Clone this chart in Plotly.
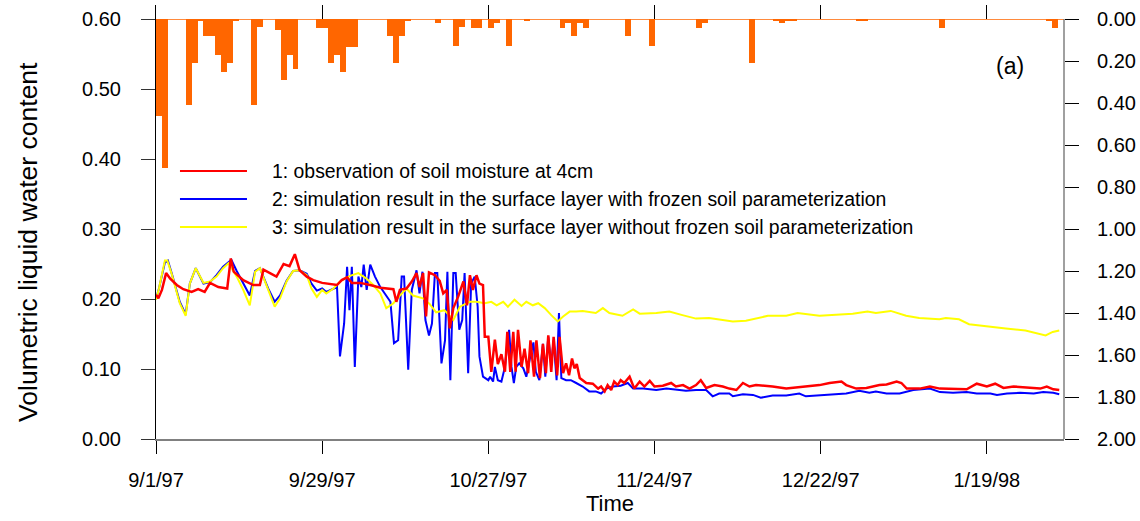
import pandas as pd
import plotly.graph_objects as go

# ---------------- data ----------------
start_date = "1997-09-01"
end_date = "1998-02-01"

tick_dates = ["1997-09-01", "1997-09-29", "1997-10-27", "1997-11-24", "1997-12-22", "1998-01-19"]
tick_labels = ["9/1/97", "9/29/97", "10/27/97", "11/24/97", "12/22/97", "1/19/98"]

# daily precipitation (right axis, inverted), one value per day from 9/1/97
precip = [0.46, 0.71, 0, 0, 0, 0.41, 0.21, 0.01, 0.08, 0.08,
          0.17, 0.25, 0.21, 0.01, 0, 0, 0.41, 0.04, 0, 0,
          0.05, 0.29, 0.17, 0.24, 0, 0, 0, 0.045, 0.045, 0.21,
          0.17, 0.25, 0.135, 0.135, 0, 0, 0, 0, 0, 0.08,
          0.21, 0.08, 0.01, 0, 0, 0, 0, 0.02, 0, 0,
          0.13, 0.04, 0, 0.045, 0.045, 0, 0.045, 0.02, 0, 0.13,
          0, 0, 0.01, 0, 0, 0, 0, 0, 0.045, 0.02,
          0.08, 0.02, 0.045, 0, 0, 0, 0, 0, 0, 0.08,
          0, 0, 0, 0.13, 0, 0, 0, 0, 0, 0,
          0, 0.045, 0.02, 0, 0, 0, 0, 0, 0, 0,
          0.21, 0, 0, 0, 0.01, 0.02, 0.01, 0.01, 0, 0,
          0, 0, 0, 0, 0, 0, 0, 0, 0.01, 0.01,
          0, 0, 0, 0, 0, 0, 0, 0, 0, 0,
          0, 0, 0.045, 0, 0, 0, 0, 0, 0, 0,
          0, 0, 0, 0, 0, 0, 0, 0, 0, 0,
          0.01, 0.045, 0]

# 1: observation (days since 9/1/97, value)
obs_day = [0, 0.4, 1.0, 1.7, 2.4, 3.5, 4.6, 6.0, 7.1, 8.2,
           9.1, 10.5, 12.0, 12.6, 13.1, 14.7, 16.4, 17.5, 18.1, 19.2,
           20.3, 21.5, 22.5, 23.4, 24.2, 25.4, 26.5, 28.0, 29.3, 30.5,
           31.3, 32.2, 33.0, 34.4, 36.1, 37.8, 40.0, 40.5, 41.1, 42.2,
           43.1, 43.9, 44.4, 45.0, 45.5, 46.0, 47.0, 47.8, 48.4, 49.0,
           49.5, 50.1, 50.9, 51.8, 52.4, 52.9, 53.4, 54.0, 54.5, 55.1,
           55.4, 56.0, 56.5, 57.1, 57.6, 58.2, 58.8, 59.2, 59.7, 60.2,
           60.6, 61.0, 61.6, 62.1, 62.7, 63.1, 63.7, 64.1, 64.7, 65.2,
           65.7, 66.1, 66.6, 67.0, 67.6, 68.0, 68.6, 69.1, 69.6, 70.1,
           70.5, 70.9, 71.4, 72.5, 73.6, 74.5, 75.0, 75.6, 76.1, 76.7,
           77.2, 77.8, 78.3, 78.9, 79.8, 80.6, 81.5, 82.3, 83.2, 84.0,
           85.4, 86.8, 87.6, 88.8, 89.9, 91.0, 91.8, 92.7, 94.1, 95.5,
           96.6, 97.8, 98.9, 100.0, 101.1, 103.9, 106.2, 109.0, 111.8, 113.5,
           115.5, 116.3, 118.0, 119.7, 121.9, 123.1, 124.8, 125.6, 126.5, 128.7,
           130.4, 132.1, 134.3, 136.6, 138.3, 140.0, 141.4, 142.8, 144.5, 146.7,
           149.0, 150.1, 151.2, 152.2]
obs_val = [0.206, 0.201, 0.213, 0.237, 0.229, 0.220, 0.214, 0.210, 0.214, 0.210,
           0.223, 0.217, 0.215, 0.258, 0.239, 0.227, 0.220, 0.220, 0.242, 0.237,
           0.232, 0.250, 0.247, 0.264, 0.241, 0.232, 0.227, 0.223, 0.221, 0.220,
           0.227, 0.231, 0.223, 0.223, 0.220, 0.216, 0.214, 0.196, 0.213, 0.215,
           0.225, 0.237, 0.217, 0.237, 0.175, 0.238, 0.234, 0.226, 0.208, 0.213,
           0.158, 0.187, 0.203, 0.225, 0.191, 0.234, 0.213, 0.234, 0.222, 0.220,
           0.146, 0.146, 0.096, 0.142, 0.107, 0.121, 0.096, 0.153, 0.096, 0.153,
           0.096, 0.156, 0.103, 0.129, 0.094, 0.141, 0.089, 0.141, 0.087, 0.136,
           0.094, 0.148, 0.096, 0.146, 0.091, 0.146, 0.094, 0.108, 0.091, 0.115,
           0.101, 0.107, 0.087, 0.080, 0.079, 0.072, 0.075, 0.068, 0.077, 0.070,
           0.082, 0.077, 0.084, 0.080, 0.089, 0.072, 0.082, 0.075, 0.083, 0.075,
           0.076, 0.080, 0.075, 0.077, 0.072, 0.077, 0.084, 0.073, 0.077, 0.075,
           0.072, 0.070, 0.080, 0.075, 0.077, 0.075, 0.072, 0.074, 0.077, 0.080,
           0.082, 0.077, 0.072, 0.073, 0.077, 0.078, 0.082, 0.080, 0.072, 0.072,
           0.075, 0.072, 0.072, 0.071, 0.079, 0.075, 0.079, 0.073, 0.075, 0.074,
           0.072, 0.075, 0.071, 0.070]

# 2: simulation with frozen soil parameterization
frz_day = [0, 0.5, 1.5, 2.0, 2.6, 4.0, 5.0, 5.7, 6.7, 8.0,
           9.1, 10.2, 11.3, 12.7, 13.6, 14.7, 15.8, 16.7, 17.5, 18.9,
           20.0, 20.9, 22.0, 23.1, 24.2, 25.4, 26.2, 27.1, 28.0, 28.7,
           29.9, 30.5, 31.0, 31.7, 32.2, 32.6, 33.0, 33.5, 34.1, 34.6,
           35.0, 35.5, 36.1, 36.9, 37.8, 38.8, 39.5, 40.1, 40.8, 41.4,
           41.8, 42.5, 43.1, 43.9, 44.4, 44.9, 45.4, 46.0, 46.5, 47.0,
           47.4, 48.1, 48.7, 49.1, 49.6, 50.1, 50.5, 51.1, 51.6, 52.0,
           52.6, 53.1, 53.7, 54.2, 54.5, 55.1, 56.0, 56.3, 56.8, 57.1,
           57.6, 58.2, 58.8, 59.2, 59.5, 59.9, 60.3, 60.7, 61.2, 61.9,
           62.4, 63.0, 63.6, 64.0, 64.6, 65.2, 65.6, 66.1, 66.6, 67.0,
           67.5, 67.9, 68.3, 69.1, 69.9, 70.8, 71.9, 73.0, 74.1, 75.0,
           75.9, 77.0, 78.3, 79.5, 80.4, 82.1, 84.3, 86.0, 87.6, 89.3,
           91.0, 92.7, 93.8, 94.9, 96.6, 97.2, 98.9, 100.6, 101.9, 103.9,
           106.2, 108.4, 109.5, 111.8, 114.1, 116.3, 118.5, 120.2, 121.3, 123.1,
           125.3, 127.6, 130.4, 132.1, 134.3, 136.6, 138.3, 140.6, 141.7, 143.4,
           145.6, 147.9, 149.5, 151.2, 152.2]
frz_val = [0.200, 0.215, 0.252, 0.255, 0.238, 0.196, 0.178, 0.222, 0.244, 0.222,
           0.224, 0.234, 0.246, 0.256, 0.240, 0.222, 0.205, 0.240, 0.244, 0.215,
           0.196, 0.205, 0.226, 0.240, 0.241, 0.236, 0.222, 0.212, 0.215, 0.210,
           0.215, 0.217, 0.118, 0.165, 0.246, 0.184, 0.246, 0.103, 0.232, 0.217,
           0.249, 0.213, 0.249, 0.232, 0.217, 0.205, 0.196, 0.137, 0.141, 0.232,
           0.232, 0.099, 0.213, 0.241, 0.208, 0.239, 0.170, 0.148, 0.165, 0.237,
           0.237, 0.108, 0.141, 0.239, 0.084, 0.237, 0.237, 0.156, 0.170, 0.237,
           0.094, 0.222, 0.232, 0.189, 0.118, 0.089, 0.084, 0.089, 0.082, 0.103,
           0.084, 0.082, 0.103, 0.137, 0.156, 0.103, 0.080, 0.103, 0.108, 0.101,
           0.089, 0.115, 0.138, 0.096, 0.084, 0.136, 0.089, 0.146, 0.106, 0.141,
           0.084, 0.180, 0.087, 0.084, 0.084, 0.080, 0.075, 0.068, 0.068, 0.065,
           0.072, 0.075, 0.076, 0.080, 0.072, 0.072, 0.070, 0.072, 0.071, 0.069,
           0.070, 0.070, 0.061, 0.065, 0.065, 0.061, 0.064, 0.063, 0.059, 0.062,
           0.062, 0.065, 0.061, 0.062, 0.064, 0.065, 0.069, 0.066, 0.068, 0.065,
           0.065, 0.070, 0.072, 0.067, 0.066, 0.067, 0.065, 0.065, 0.063, 0.065,
           0.066, 0.065, 0.067, 0.066, 0.064]

# 3: simulation without frozen soil parameterization
nofrz_day = [0, 0.5, 1.5, 1.9, 2.6, 4.0, 5.0, 5.7, 6.7, 8.0,
             9.1, 10.2, 11.3, 12.2, 13.6, 14.7, 15.8, 16.7, 17.5, 18.9,
             20.0, 20.9, 22.0, 23.1, 24.2, 25.4, 26.2, 27.1, 28.0, 28.7,
             29.9, 31.0, 32.7, 34.1, 35.5, 36.6, 37.8, 38.8, 40.0, 41.1,
             42.2, 43.3, 45.0, 46.1, 47.2, 48.6, 50.1, 51.2, 52.9, 54.0,
             55.4, 56.5, 57.4, 58.5, 59.3, 60.4, 61.6, 62.4, 63.5, 64.4,
             65.5, 66.6, 67.7, 68.6, 69.7, 70.8, 71.9, 74.1, 75.3, 76.4,
             78.6, 80.4, 81.5, 84.3, 86.5, 88.7, 91.0, 93.2, 95.0, 97.2,
             99.4, 101.1, 103.1, 106.2, 108.1, 111.8, 115.1, 117.4, 119.9, 121.3,
             123.8, 126.4, 128.6, 132.0, 133.1, 135.3, 137.0, 139.8, 143.2, 146.5,
             148.2, 149.9, 151.1, 152.2]
nofrz_val = [0.199, 0.215, 0.255, 0.255, 0.237, 0.194, 0.176, 0.222, 0.244, 0.223,
             0.225, 0.232, 0.244, 0.251, 0.232, 0.213, 0.191, 0.239, 0.244, 0.213,
             0.189, 0.201, 0.225, 0.240, 0.241, 0.234, 0.215, 0.203, 0.213, 0.208,
             0.215, 0.225, 0.233, 0.237, 0.229, 0.220, 0.208, 0.187, 0.194, 0.205,
             0.215, 0.205, 0.201, 0.193, 0.181, 0.184, 0.170, 0.189, 0.196, 0.196,
             0.194, 0.196, 0.191, 0.196, 0.189, 0.199, 0.190, 0.196, 0.191, 0.194,
             0.187, 0.177, 0.168, 0.175, 0.182, 0.182, 0.183, 0.180, 0.187, 0.180,
             0.176, 0.185, 0.179, 0.180, 0.182, 0.177, 0.172, 0.173, 0.171, 0.168,
             0.169, 0.172, 0.176, 0.176, 0.180, 0.176, 0.178, 0.179, 0.182, 0.180,
             0.183, 0.176, 0.173, 0.171, 0.173, 0.171, 0.164, 0.161, 0.158, 0.155,
             0.152, 0.148, 0.153, 0.155]

series_names = [
    "1: observation of soil moisture at 4cm",
    "2: simulation result in the surface layer with frozen soil parameterization",
    "3: simulation result in the surface layer without frozen soil parameterization",
]
series_colors = ["#FF0000", "#0000FF", "#FFFF00"]

assert len(obs_day) == len(obs_val)
assert len(frz_day) == len(frz_val)
assert len(nofrz_day) == len(nofrz_val)

# ---------------- build ----------------
t0 = pd.Timestamp(start_date)


def to_time(days):
    return [t0 + pd.Timedelta(days=d) for d in days]


precip_dates = [t0 + pd.Timedelta(days=i) for i in range(len(precip))]
FONT = "Liberation Sans, Arial, Helvetica, sans-serif"

fig = go.Figure()
fig.add_trace(go.Bar(x=precip_dates, y=precip, xaxis="x2", yaxis="y2",
                     offset=0, width=86400000, marker=dict(color="#FF6600", line=dict(width=0)),
                     showlegend=False))
fig.add_trace(go.Scatter(x=to_time(frz_day), y=frz_val, mode="lines",
                         line=dict(color=series_colors[1], width=2), showlegend=False))
fig.add_trace(go.Scatter(x=to_time(nofrz_day), y=nofrz_val, mode="lines",
                         line=dict(color=series_colors[2], width=2), showlegend=False))
fig.add_trace(go.Scatter(x=to_time(obs_day), y=obs_val, mode="lines",
                         line=dict(color=series_colors[0], width=2.5), showlegend=False))

xrange_ = [start_date, end_date]

fig.update_layout(
    width=1140, height=521,
    margin=dict(l=156, r=76, t=5, b=82),
    paper_bgcolor="white", plot_bgcolor="white",
    font=dict(family=FONT, color="black", size=20),
    bargap=0,
    xaxis=dict(range=xrange_, tickvals=tick_dates, ticktext=tick_labels,
               ticks="outside", ticklen=13, tickcolor="black", tickwidth=1,
               showline=True, linecolor="#808080", linewidth=2,
               showgrid=False, zeroline=False, ticklabelstandoff=9,
               tickfont=dict(size=20),
               title=dict(text="Time", font=dict(size=22), standoff=6)),
    xaxis2=dict(range=xrange_, overlaying="x", side="top", anchor="y2",
                tickvals=tick_dates, ticks="inside", ticklen=14, tickcolor="black",
                tickwidth=1, showticklabels=False, showline=False,
                showgrid=False, zeroline=False),
    yaxis=dict(range=[0, 0.62], tickvals=[0, 0.1, 0.2, 0.3, 0.4, 0.5, 0.6],
               tickformat=".2f", ticks="outside", ticklen=14, tickcolor="#333333",
               tickwidth=1, showline=True, linecolor="black", linewidth=1,
               showgrid=False, zeroline=False, ticklabelstandoff=16,
               tickfont=dict(size=20)),
    yaxis2=dict(range=[2.0, -2.0 * 434 / 420 + 2.0], overlaying="y", side="right",
                anchor="x", tickvals=[0, 0.2, 0.4, 0.6, 0.8, 1.0, 1.2, 1.4, 1.6, 1.8, 2.0],
                tickformat=".2f", ticks="outside", ticklen=14, tickcolor="black",
                tickwidth=1, showline=False, showgrid=False,
                zeroline=True, zerolinecolor="#FF8A3D", zerolinewidth=1,
                ticklabelstandoff=14, tickfont=dict(size=20)),
)

# left axis title (placed as in the reference, slightly below the plot centre)
fig.add_annotation(xref="paper", yref="paper", x=-0.141, y=0.454,
                   text="Volumetric liquid water content", textangle=-90,
                   showarrow=False, xanchor="center", yanchor="middle",
                   font=dict(size=26.5, family=FONT))

# right axis line from 0.00 to 2.00
fig.add_shape(type="line", xref="paper", yref="y2", x0=1, x1=1, y0=0, y1=2,
              line=dict(color="#808080", width=1.5))

# legend drawn as lines + labels
legend_y = [0.6175, 0.553, 0.4885]
for name, color, ly in zip(series_names, series_colors, legend_y):
    fig.add_shape(type="line", xref="paper", yref="paper", x0=0.0264, x1=0.1002,
                  y0=ly, y1=ly, line=dict(color=color, width=2))
    fig.add_annotation(xref="paper", yref="paper", x=0.1256, y=ly, text=name,
                       showarrow=False, xanchor="left", yanchor="middle",
                       font=dict(size=19.4, family=FONT))

fig.add_annotation(xref="paper", yref="paper", x=0.9405, y=0.859, text="(a)",
                   showarrow=False, xanchor="center", yanchor="middle",
                   font=dict(size=23, family=FONT))

fig.write_html("out.html")
